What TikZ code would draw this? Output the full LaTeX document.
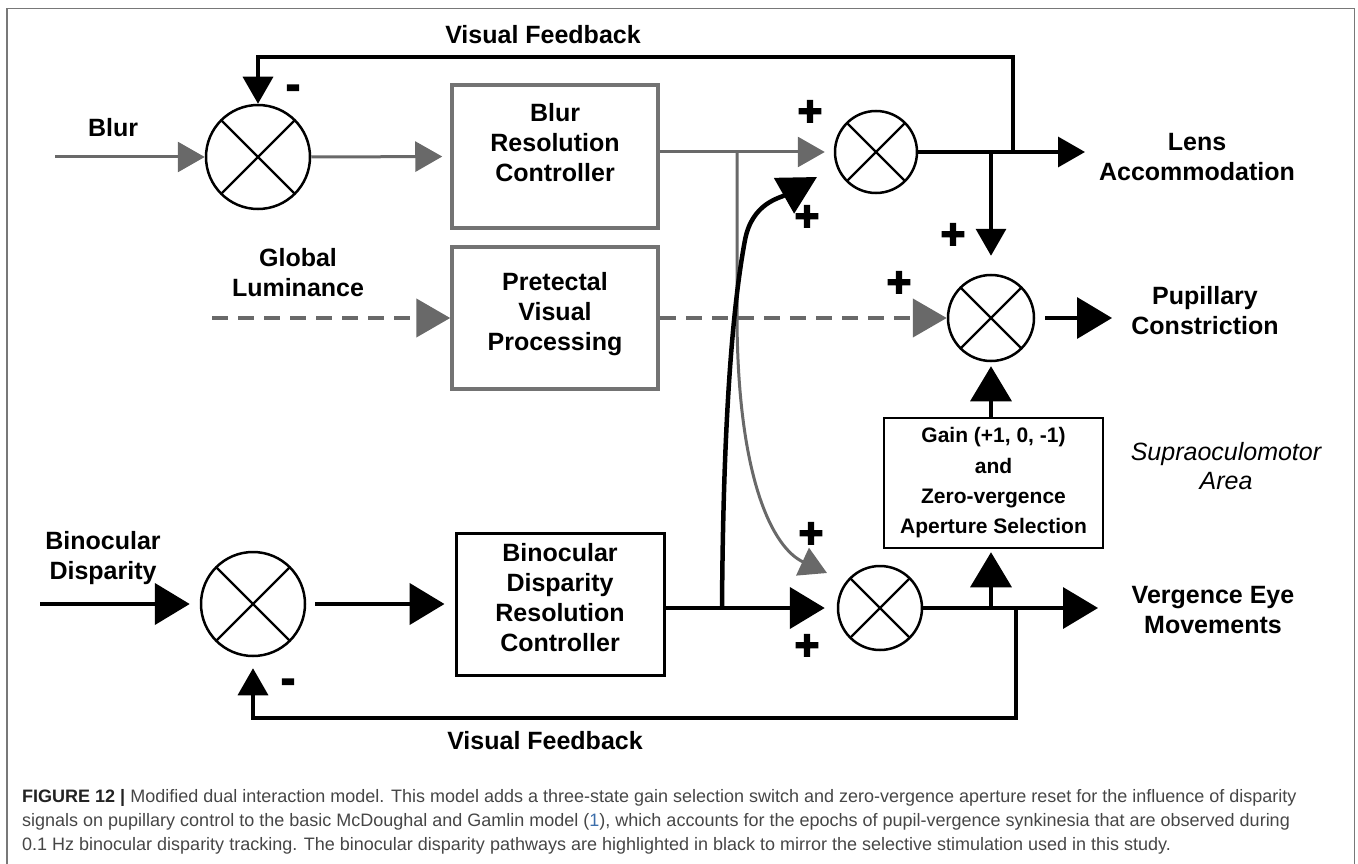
\documentclass[tikz,border=0pt]{standalone}
\usepackage{fontspec}
\setmainfont{Liberation Sans}
\newfontfamily\signfont[FakeBold=4]{Liberation Sans}
\usetikzlibrary{arrows.meta}
\definecolor{dg}{RGB}{105,105,105}
\definecolor{boxgray}{RGB}{115,115,115}
\definecolor{framegray}{RGB}{120,120,120}
\definecolor{captext}{RGB}{70,70,70}
\definecolor{capdark}{RGB}{35,35,35}
\definecolor{linkblue}{RGB}{60,110,170}
\tikzset{
  lab/.style={font=\bfseries\fontsize{25}{30}\selectfont, align=center, inner sep=0pt},
  sign/.style={font=\signfont\bfseries\fontsize{42}{42}\selectfont, inner sep=0pt},
  sumnode/.style={circle, draw, line width=2.5pt, minimum size=#1, inner sep=0pt,
    path picture={\draw[line width=2.2pt]
      (path picture bounding box.north west) -- (path picture bounding box.south east)
      (path picture bounding box.north east) -- (path picture bounding box.south west);}},
  gbox/.style={draw=boxgray, line width=3.5pt, inner sep=0pt},
  bbox/.style={draw=black, line width=3pt, inner sep=0pt},
  gline/.style={draw=dg, line width=3pt},
  ga/.style={draw=dg, line width=3pt, -{Triangle[length=27pt,width=30pt]}},
  gda/.style={draw=dg, line width=4.5pt, dash pattern=on 16pt off 10pt, -{Triangle[length=34pt,width=38pt]}},
  ba/.style={draw=black, line width=3.5pt, -{Triangle[length=27pt,width=30pt]}},
  bA/.style={draw=black, line width=3.5pt, -{Triangle[length=35pt,width=41pt]}},
  bAt/.style={draw=black, line width=4.5pt, -{Triangle[length=35pt,width=41pt]}},
  captionline/.style={font=\fontsize{18}{22}\selectfont, text=captext, inner sep=0pt, anchor=base west}
}
\begin{document}
\begin{tikzpicture}[x=1pt,y=-1pt]
\useasboundingbox (0,0) rectangle (1358,864);
% frame
\draw[draw=framegray, line width=1.5pt] (7,870) -- (7,8.5) -- (1354.5,8.5) -- (1354.5,870);

% labels
\node[lab] (vft) at (543,35) {Visual Feedback};
\node[lab] (blurl) at (113,128) {Blur};
\node[lab] (glum) at (298,273) {Global\\Luminance};
\node[lab] (binl) at (103,558) {Binocular\\Disparity};
\node[lab] (lens) at (1197,157.5) {Lens\\Accommodation};
\node[lab] (pup) at (1205,311) {Pupillary\\Constriction};
\node[lab] (verg) at (1213,610) {Vergence Eye\\Movements};
\node[lab] (vfb) at (545,741) {Visual Feedback};
\node[font=\itshape\fontsize{25}{29}\selectfont, align=center, inner sep=0pt] (supra) at (1226,466) {Supraoculomotor\\Area};

% summing junctions
\node[sumnode=104pt] (s1) at (258,157) {};
\node[sumnode=82pt] (s2) at (876,152) {};
\node[sumnode=86pt] (s4) at (991,318) {};
\node[sumnode=104pt] (s3) at (253,604) {};
\node[sumnode=84pt] (s5) at (880,608) {};

% boxes
\node[gbox, minimum width=206pt, minimum height=143pt] (blurbox) at (555,156.5) {};
\node[lab] (blurt) at (555,143) {Blur\\Resolution\\Controller};
\node[gbox, minimum width=206pt, minimum height=142pt] (pret) at (555,318) {};
\node[lab] (prett) at (555,314) {Pretectal\\Visual\\Processing};
\node[bbox, minimum width=208pt, minimum height=142pt] (binbox) at (560,604) {};
\node[lab] (bint) at (560,598) {Binocular\\Disparity\\Resolution\\Controller};
\node[draw=black, line width=2.5pt, minimum width=219pt, minimum height=130pt, inner sep=0pt,
  font=\bfseries\fontsize{21}{30.3}\selectfont, align=center] (gain) at (993.5,483)
  {Gain (+1, 0, -1)\\and\\Zero-vergence\\Aperture Selection};

% signs
\node[sign] (m1) at (293,92) {-};
\node[sign] (m2) at (288,686) {-};
\node[sign] (p1) at (810,113) {+};
\node[sign] (p2) at (807,218) {+};
\node[sign] (p3) at (953,236) {+};
\node[sign] (p4) at (899,284) {+};
\node[sign] (p5) at (811,535) {+};
\node[sign] (p6) at (807,647) {+};

% coordinates
\coordinate (blurin) at (55,157);
\coordinate (gj) at (737,152);
\coordinate (gbend) at (737,320);
\coordinate (gtip) at (827,573);
\coordinate (ctip) at (817,177);
\coordinate (lensend) at (1085,152);
\coordinate (fbr) at (1013,152);
\coordinate (fbtop) at (1013,57);
\coordinate (br) at (991,152);
\coordinate (pupend) at (1112,318);
\coordinate (glin) at (212,318);
\coordinate (binin) at (40,604);
\coordinate (bj) at (722,608);
\coordinate (vergend) at (1098,608);
\coordinate (vj) at (991,608);
\coordinate (fbb) at (1016,608);
\coordinate (fbbot) at (1016,718);

% blur pathway (gray)
\draw[ga] (blurin) -- (s1.west);
\draw[ga, shorten >=8pt] (s1.east) -- (blurbox.west);
\draw[gline] (blurbox.east |- s2.west) -- (gj);
\draw[ga, shorten >=9pt] (gj) -- (s2.west);
\draw[ga] (gj) -- (gbend) .. controls (738,480) and (773,548) .. (gtip);

% luminance pathway (dashed)
\draw[gda] (glin) -- (pret.west);
\draw[gda] (pret.east) -- (s4.west);

% lens / pupil outputs
\draw[ba] (s2.east) -- (lensend);
\draw[ba] (fbr) -- (fbtop) -| (s1.north);
\draw[ba, shorten >=18pt] (br) -- (s4.north);
\draw[bA, shorten <=10pt] (s4.east) -- (pupend);
\draw[bA, shorten >=4pt] (s4 |- gain.north) -- (s4.south);
\draw[bA, shorten >=3pt] (vj) -- (s4 |- gain.south);

% binocular pathway (black)
\draw[bAt, shorten >=10pt] (binin) -- (s3.west);
\draw[bAt, shorten <=9pt, shorten >=10pt] (s3.east) -- (binbox.west);
\draw[bAt, shorten >=12pt] (binbox.east |- s5.west) -- (s5.west);
\draw[draw=black, line width=4.5pt, -{Triangle[length=38pt,width=40pt]}]
  (bj) .. controls (723,450) and (730,320) .. (745,240)
       .. controls (752,203) and (780,198) .. (ctip);
\draw[bA] (s5.east) -- (vergend);
\draw[ba, shorten >=11pt] (fbb) -- (fbbot) -| (s3.south);

% caption
\node[captionline] (c1) at (22,802) {{\bfseries\color{capdark}FIGURE 12 |} Modified dual interaction model. This model adds a three-state gain selection switch and zero-vergence aperture reset for the influence of disparity};
\node[captionline] (c2) at (22,826) {signals on pupillary control to the basic McDoughal and Gamlin model ({\color{linkblue}1}), which accounts for the epochs of pupil-vergence synkinesia that are observed during};
\node[captionline] (c3) at (22,850) {0.1 Hz binocular disparity tracking. The binocular disparity pathways are highlighted in black to mirror the selective stimulation used in this study.};
\end{tikzpicture}
\end{document}
